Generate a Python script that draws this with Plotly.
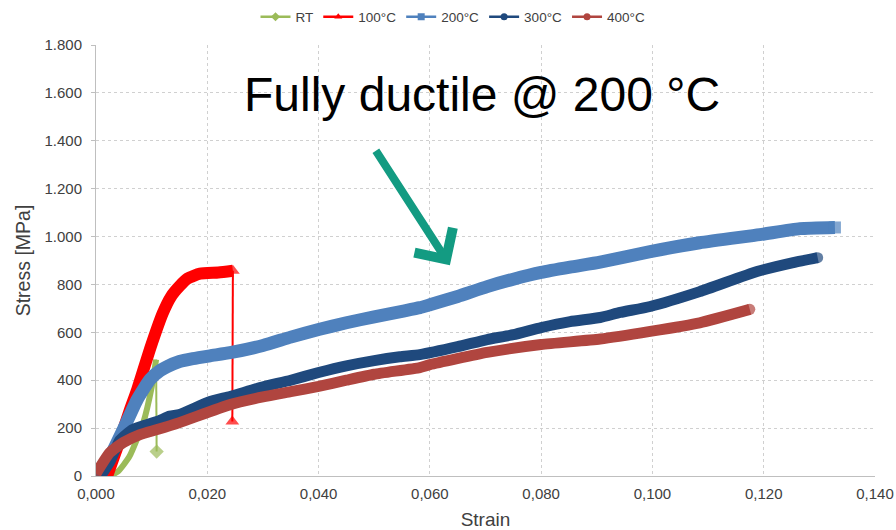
import plotly.graph_objects as go

# ---------------- data ----------------
rt_strain = [0.0025, 0.0040, 0.0060, 0.0085, 0.0100, 0.0108]
rt_stress = [0, 20, 81, 223, 370, 486]
rt_break_strain = [0.0108, 0.0109]
rt_break_stress = [486, 102]

t100_strain = [0.0020, 0.0040, 0.0060, 0.0074, 0.0097, 0.0120, 0.0135, 0.0151,
               0.0165, 0.0187, 0.0220, 0.0246]
t100_stress = [0, 130, 270, 361, 530, 680, 750, 795, 825, 845, 850, 857]
t100_break_strain = [0.0246, 0.0245]
t100_break_stress = [857, 228]

t200_strain = [0.0000, 0.0025, 0.0049, 0.0074, 0.0097, 0.0115, 0.0128, 0.0150,
               0.0174, 0.0205, 0.0241, 0.0300, 0.0350, 0.0400, 0.0450, 0.0500,
               0.0550, 0.0582, 0.0600, 0.0650, 0.0703, 0.0750, 0.0800, 0.0852,
               0.0906, 0.0996, 0.1085, 0.1193, 0.1265, 0.1328]
t200_stress = [5, 81, 194, 319, 403, 440, 457, 478,
               490, 502, 515, 545, 580, 612, 640, 665,
               688, 703, 715, 750, 791, 822, 850, 872,
               893, 937, 974, 1008, 1033, 1038]

t300_strain = [0.0008, 0.0025, 0.0043, 0.0066, 0.0085, 0.0110, 0.0133, 0.0150,
               0.0205, 0.0241, 0.0295, 0.0350, 0.0400, 0.0450, 0.0500, 0.0546,
               0.0582, 0.0650, 0.0703, 0.0750, 0.0800, 0.0852, 0.0906, 0.0942,
               0.0996, 0.1085, 0.1188, 0.1253, 0.1297]
t300_stress = [0, 60, 150, 194, 210, 228, 250, 257,
               311, 332, 369, 400, 432, 460, 482, 498,
               507, 540, 570, 590, 620, 645, 662, 683,
               708, 770, 854, 891, 912]

t400_strain = [0.0000, 0.0025, 0.0049, 0.0079, 0.0110, 0.0150, 0.0241, 0.0300,
               0.0350, 0.0400, 0.0450, 0.0500, 0.0582, 0.0600, 0.0703, 0.0800,
               0.0906, 0.0996, 0.1085, 0.1175]
t400_stress = [10, 98, 140, 173, 194, 223, 298, 330,
               352, 374, 400, 425, 453, 465, 516, 549,
               572, 604, 640, 696]

series_names = ["RT", "100°C", "200°C", "300°C", "400°C"]
x_ticks = [0.00, 0.02, 0.04, 0.06, 0.08, 0.10, 0.12, 0.14]
y_ticks = [0, 200, 400, 600, 800, 1000, 1200, 1400, 1600, 1800]

# ---------------- styles ----------------
C_RT = "#9BBB59"
C_100 = "#FF0000"
C_200 = "#4F81BD"
C_300 = "#1F497D"
C_400 = "#B0453F"
FONT = "Arial, 'Liberation Sans', sans-serif"

FIG_W, FIG_H = 896, 530

fig = go.Figure()


def end_sizes(n, s):
    return [s] + [0] * (n - 2) + [s]


def curve(x, y, col, w, sym=None, msize=None):
    mode = "lines+markers" if sym else "lines"
    kw = dict(x=x, y=y, mode=mode, showlegend=False, hoverinfo="skip",
              line=dict(color=col, width=w, shape="spline", smoothing=0.5))
    if sym:
        kw["marker"] = dict(symbol=sym, size=end_sizes(len(x), msize), color=col,
                            line=dict(width=0))
    return go.Scatter(**kw)


# data curves (Excel order: later series drawn on top)
fig.add_trace(curve(rt_strain, rt_stress, C_RT, 6))
fig.add_trace(go.Scatter(x=rt_break_strain, y=rt_break_stress, mode="lines+markers",
                         showlegend=False, hoverinfo="skip", line=dict(color=C_RT, width=2),
                         marker=dict(symbol="diamond", size=[0, 11], color=C_RT,
                                     line=dict(width=0))))

fig.add_trace(curve(t100_strain, t100_stress, C_100, 12))
fig.add_trace(go.Scatter(x=t100_break_strain, y=t100_break_stress, mode="lines+markers",
                         showlegend=False, hoverinfo="skip", line=dict(color=C_100, width=2),
                         marker=dict(symbol="triangle-up", size=[12, 12], color=C_100,
                                     line=dict(width=0))))

fig.add_trace(curve(t200_strain, t200_stress, C_200, 13, "square", 12))
fig.add_trace(curve(t300_strain, t300_stress, C_300, 11, "circle", 11))
fig.add_trace(curve(t400_strain, t400_stress, C_400, 11, "circle", 11))

# legend entries
for name, col, sym in zip(series_names, [C_RT, C_100, C_200, C_300, C_400],
                          ["diamond", "triangle-up", "square", "circle", "circle"]):
    fig.add_trace(go.Scatter(x=[None], y=[None], mode="lines+markers", name=name,
                             line=dict(color=col, width=2.5),
                             marker=dict(symbol=sym, size=7, color=col, line=dict(width=0))))

axis_common = dict(showgrid=True, gridcolor="#D0D0D0", griddash="dot", gridwidth=1,
                   zeroline=False, showline=True, linecolor="#BFBFBF", linewidth=1,
                   automargin=False,
                   tickfont=dict(family=FONT, size=15, color="#404040"))

fig.update_layout(
    width=FIG_W, height=FIG_H,
    margin=dict(l=96, r=21, t=45, b=54),
    paper_bgcolor="white", plot_bgcolor="white",
    separators=",.",
    font=dict(family=FONT, color="#404040"),
    xaxis=dict(range=[0, 0.14], tickvals=x_ticks, tickformat=".3f",
               title=dict(text="Strain", font=dict(family=FONT, size=19, color="#404040"),
                          standoff=13),
               ticks="", ticklabelstandoff=4, **axis_common),
    yaxis=dict(range=[0, 1800], tickvals=y_ticks, tickformat=",d",
               title=dict(text="Stress [MPa]", font=dict(family=FONT, size=19.5, color="#404040"),
                          standoff=8),
               ticks="outside", ticklen=4, tickcolor="#BFBFBF", ticklabelstandoff=6,
               **axis_common),
    legend=dict(orientation="h", x=453 / FIG_W, xref="container", xanchor="center",
                y=1 - 17 / FIG_H, yref="container", yanchor="middle",
                font=dict(family=FONT, size=13.5, color="#404040"),
                itemwidth=30, tracegroupgap=0, bgcolor="rgba(0,0,0,0)"),
    showlegend=True,
)

fig.add_annotation(text="Fully ductile @ 200 °C", xref="paper", yref="paper",
                   x=0.4955, y=0.884, xanchor="center", yanchor="middle",
                   showarrow=False, font=dict(family=FONT, size=48, color="black"))

fig.add_annotation(x=0.0636, y=880, xref="x", yref="y", text="", showarrow=True,
                   ax=-75, ay=-116, axref="pixel", ayref="pixel",
                   arrowhead=4, arrowsize=1.1, arrowwidth=8, arrowcolor="#139B82")

# remove the default page margin so the 896x530 figure fills the window exactly
fig.write_html("out.html",
               config={"displayModeBar": False},
               post_script="document.body.style.margin='0px';"
                           "document.body.style.overflow='hidden';")
